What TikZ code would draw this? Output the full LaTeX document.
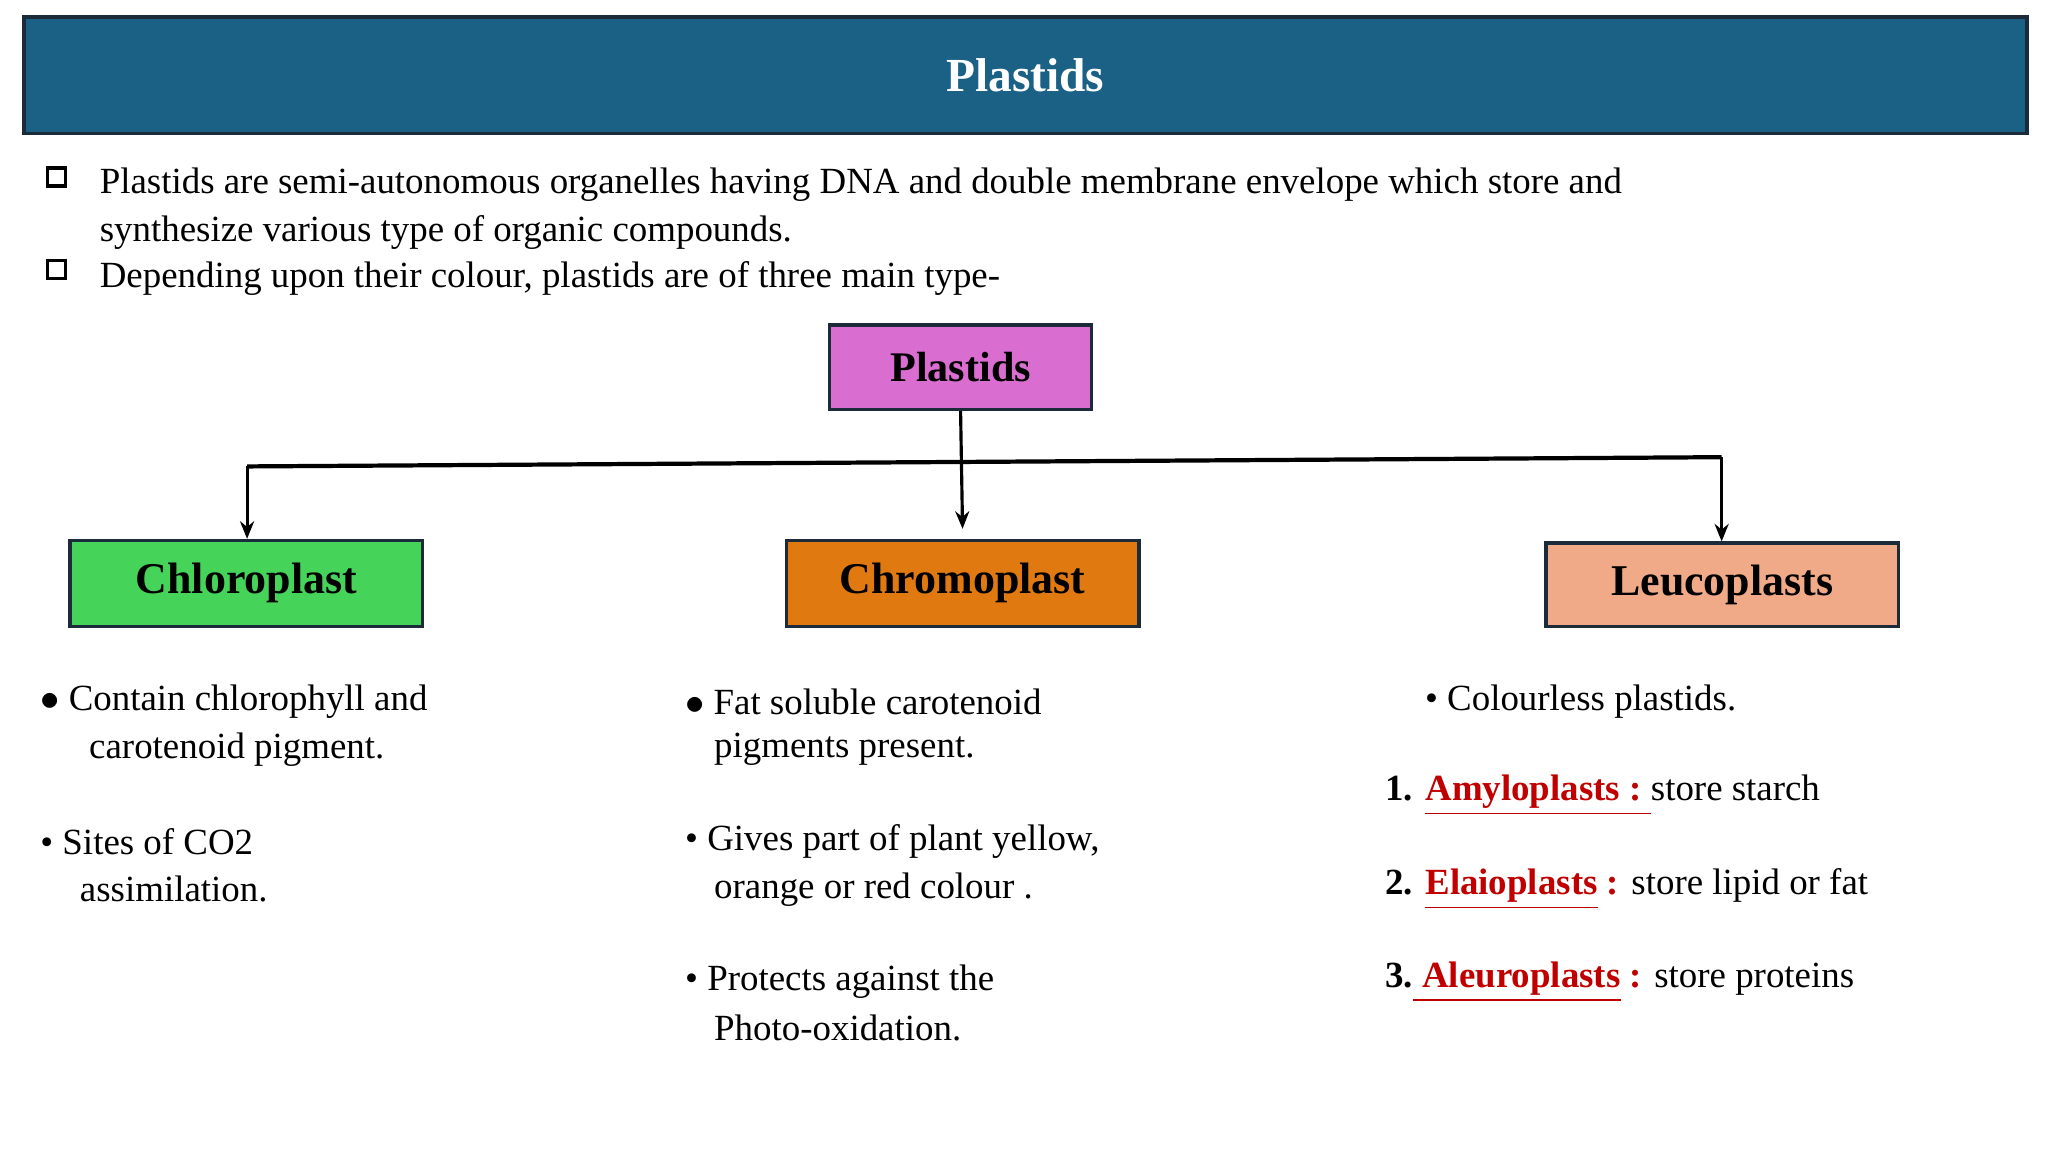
\documentclass[tikz,border=0pt]{standalone}
\usepackage{fontspec}
\setmainfont{Liberation Serif}
\usetikzlibrary{arrows.meta}
\definecolor{titlebg}{HTML}{1A6185}
\definecolor{pl}{HTML}{D96DD0}
\definecolor{chl}{HTML}{45D35A}
\definecolor{chr}{HTML}{E07A10}
\definecolor{leu}{HTML}{F0AA88}
\definecolor{dred}{HTML}{C00000}
\definecolor{bd}{HTML}{1B2B3A}
\begin{document}
\begin{tikzpicture}[x=0.013213cm,y=-0.013213cm,
  txt/.style={anchor=west,inner sep=0pt,font=\fontsize{10.5}{12}\selectfont},
  box/.style={draw=bd,line width=0.9pt,minimum width=267\pgflinewidth,font=\fontsize{12}{14}\selectfont\bfseries},
  arr/.style={-{Stealth[length=5pt,width=4pt]},line width=0.9pt}]
\useasboundingbox (0,0) rectangle (1550,872);
\node[draw=bd,line width=1pt,fill=titlebg,minimum width=1516*0.013213cm,minimum height=88*0.013213cm,text=white,font=\fontsize{13.5}{16}\selectfont\bfseries] (title) at (776,57) {Plastids};
\node[draw,line width=0.9pt,minimum size=0.18cm,inner sep=0pt] (cb1) at (43,134) {};
\node[draw,line width=0.9pt,minimum size=0.18cm,inner sep=0pt] (cb2) at (43,204) {};
\node[txt] (l1) at (75,140) {Plastids are semi-autonomous organelles having DNA and double membrane envelope which store and};
\node[txt] (l2) at (75,176) {synthesize various type of organic compounds.};
\node[txt] (l3) at (75,211) {Depending upon their colour, plastids are of three main type-};
\node[draw=bd,line width=0.9pt,fill=pl,minimum width=198*0.013213cm,minimum height=64*0.013213cm,font=\fontsize{12}{14}\selectfont\bfseries] (P) at (727,278) {Plastids};
\node[draw=bd,line width=0.9pt,fill=chl,minimum width=267*0.013213cm,minimum height=65*0.013213cm,font=\fontsize{12.5}{14}\selectfont\bfseries] (C1) at (186.5,441.5) {Chloroplast};
\node[draw=bd,line width=0.9pt,fill=chr,minimum width=267*0.013213cm,minimum height=65*0.013213cm,font=\fontsize{12.5}{14}\selectfont\bfseries] (C2) at (728.5,441.5) {Chromoplast};
\node[draw=bd,line width=0.9pt,fill=leu,minimum width=267*0.013213cm,minimum height=63*0.013213cm,font=\fontsize{12.5}{14}\selectfont\bfseries] (C3) at (1303.5,442.5) {Leucoplasts};
\coordinate (hl) at (187,353);
\coordinate (hr) at (1303,346);
\draw[line width=1.2pt] (hl) -- (hr);
\draw[arr] (hl) -- (hl |- C1.north);
\draw[arr] (hr) -- (hr |- C3.north);
\draw[arr] (P.south) -- ([yshift=0.1cm]C2.north);
% left column
\node[txt] (a1) at (30,531) {$\bullet$ Contain chlorophyll and};
\node[txt] (a2) at (67,567) {carotenoid pigment.};
\node[txt] (a3) at (30,637) {• Sites of CO2};
\node[txt] (a4) at (60,673) {assimilation.};
% middle
\node[txt] (b1) at (518,531) {$\bullet$ Fat soluble carotenoid};
\node[txt] (b2) at (540,567) {pigments present.};
\node[txt] (b3) at (518,637) {• Gives part of plant yellow,};
\node[txt] (b4) at (540,673) {orange or red colour .};
\node[txt] (b5) at (518,743) {• Protects against the};
\node[txt] (b6) at (540,778) {Photo-oxidation.};
% right
\node[txt] (c1) at (1078,531) {• Colourless plastids.};
\node[txt] (c2) at (1048,602) {\textbf{1.} \textcolor{dred}{\textbf{\underline{Amyloplasts :\ }}}store starch};
\node[txt] (c3) at (1048,673) {\textbf{2.} \textcolor{dred}{\textbf{\underline{Elaioplasts}} \textbf{:}} store lipid or fat};
\node[txt] (c4) at (1048,743) {\textbf{3.}\textcolor{dred}{\textbf{\underline{\ Aleuroplasts}} \textbf{:}} store proteins};
\end{tikzpicture}
\end{document}
